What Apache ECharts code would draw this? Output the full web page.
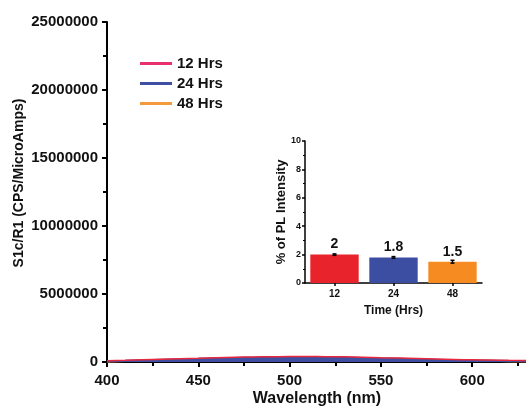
<!DOCTYPE html>
<html>
<head>
<meta charset="utf-8">
<script src="https://cdn.jsdelivr.net/npm/echarts@6/dist/echarts.min.js"></script>
<style>
  html, body { margin: 0; padding: 0; background: #fff; }
  #chart { width: 526px; height: 407px; }
</style>
</head>
<body>
<div id="chart"></div>
<script>
// Emission spectra (wavelength in nm) for the three time points
const wavelengths = [400, 410, 420, 430, 440, 450, 460, 470, 480, 490, 500, 510, 520, 530, 540, 550, 560, 570, 580, 590, 600, 610, 620, 630];
const spec12 = [90000, 120000, 160000, 200000, 240000, 280000, 320000, 350000, 375000, 390000, 400000, 400000, 395000, 380000, 355000, 320000, 285000, 250000, 215000, 185000, 160000, 140000, 120000, 105000];
const spec24 = [60000, 90000, 125000, 165000, 205000, 240000, 275000, 300000, 320000, 335000, 340000, 340000, 335000, 320000, 295000, 265000, 235000, 200000, 170000, 140000, 115000, 95000, 80000, 70000];
const spec48 = [40000, 65000, 95000, 130000, 165000, 195000, 225000, 250000, 265000, 275000, 280000, 280000, 275000, 265000, 245000, 220000, 195000, 165000, 140000, 115000, 95000, 75000, 60000, 50000];
const seriesNames = ['12 Hrs', '24 Hrs', '48 Hrs'];

// Inset: relative PL intensity per time point
const timeLabels = ['12', '24', '48'];
const plPercent = [2, 1.8, 1.5];
const plError = [0.05, 0.06, 0.1];

const FONT = "'Liberation Sans', Arial, sans-serif";
const colors = { '12 Hrs': '#e8306e', '24 Hrs': '#3e4fa3', '48 Hrs': '#f59a3c' };
const barColors = ['#e8232b', '#3b4ea2', '#f68b21'];

const pairs = arr => wavelengths.map((w, i) => [w, arr[i]]);

const chart = echarts.init(document.getElementById('chart'), null, { renderer: 'canvas' });

const axisLineStyle = { color: '#000', width: 2 };
const plain = v => String(v);

chart.setOption({
  backgroundColor: '#ffffff',
  animation: false,
  textStyle: { fontFamily: FONT },
  legend: {
    orient: 'vertical',
    left: 135,
    top: 51,
    itemWidth: 32,
    itemHeight: 3,
    itemGap: 5,
    icon: 'rect',
    data: seriesNames,
    textStyle: { fontFamily: FONT, fontWeight: 'bold', fontSize: 15, color: '#111' }
  },
  grid: [
    { left: 107, top: 22, right: -1, bottom: 45, containLabel: false, outerBoundsMode: 'none' },
    { left: 305, top: 141, width: 177, height: 142, containLabel: false, outerBoundsMode: 'none' }
  ],
  xAxis: [
    {
      gridIndex: 0,
      type: 'value',
      min: 400,
      max: 630,
      interval: 50,
      name: 'Wavelength (nm)',
      nameLocation: 'middle',
      nameGap: 29,
      nameMoveOverlap: false,
      nameTextStyle: { fontFamily: FONT, fontWeight: 'bold', fontSize: 16, color: '#111' },
      axisLine: { show: true, lineStyle: axisLineStyle },
      axisTick: { show: true, length: 5, inside: false, lineStyle: { color: '#000', width: 2 } },
      minorTick: { show: true, splitNumber: 2, length: 4, lineStyle: { color: '#000', width: 2 } },
      axisLabel: { showMaxLabel: false, margin: 11, formatter: plain, fontFamily: FONT, fontWeight: 'bold', fontSize: 15, color: '#111' },
      splitLine: { show: false }
    },
    {
      gridIndex: 1,
      type: 'category',
      data: timeLabels,
      name: 'Time (Hrs)',
      nameLocation: 'middle',
      nameGap: 22,
      nameMoveOverlap: false,
      nameTextStyle: { fontFamily: FONT, fontWeight: 'bold', fontSize: 12, color: '#111' },
      axisLine: { show: true, lineStyle: { color: '#000', width: 1.5 } },
      axisTick: { show: true, alignWithLabel: true, length: 3, lineStyle: { color: '#000', width: 1.5 } },
      axisLabel: { margin: 6, fontFamily: FONT, fontWeight: 'bold', fontSize: 10, color: '#111' },
      splitLine: { show: false }
    }
  ],
  yAxis: [
    {
      gridIndex: 0,
      type: 'value',
      min: 0,
      max: 25000000,
      interval: 5000000,
      name: 'S1c/R1 (CPS/MicroAmps)',
      nameLocation: 'middle',
      nameGap: 81,
      nameMoveOverlap: false,
      nameRotate: 90,
      nameTextStyle: { fontFamily: FONT, fontWeight: 'bold', fontSize: 14, color: '#111', padding: [0, 0, 0, 18] },
      axisLine: { show: true, lineStyle: axisLineStyle },
      axisTick: { show: true, length: 5, lineStyle: { color: '#000', width: 2 } },
      minorTick: { show: true, splitNumber: 2, length: 4, lineStyle: { color: '#000', width: 2 } },
      axisLabel: { margin: 9, formatter: plain, fontFamily: FONT, fontWeight: 'bold', fontSize: 15, color: '#111' },
      splitLine: { show: false }
    },
    {
      gridIndex: 1,
      type: 'value',
      min: 0,
      max: 10,
      interval: 2,
      name: '% of PL Intensity',
      nameLocation: 'middle',
      nameGap: 17,
      nameMoveOverlap: false,
      nameRotate: 90,
      nameTextStyle: { fontFamily: FONT, fontWeight: 'bold', fontSize: 13, color: '#111' },
      axisLine: { show: true, lineStyle: { color: '#000', width: 1.5 } },
      axisTick: { show: true, length: 3, lineStyle: { color: '#000', width: 1.5 } },
      minorTick: { show: true, splitNumber: 2, length: 2, lineStyle: { color: '#000', width: 1 } },
      axisLabel: { margin: 4, fontFamily: FONT, fontWeight: 'bold', fontSize: 9, color: '#111' },
      splitLine: { show: false }
    }
  ],
  series: [
    {
      name: '48 Hrs', type: 'line', xAxisIndex: 0, yAxisIndex: 0,
      data: pairs(spec48), showSymbol: false, smooth: true, z: 3,
      color: colors['48 Hrs'],
      lineStyle: { width: 2, color: colors['48 Hrs'] }
    },
    {
      name: '24 Hrs', type: 'line', xAxisIndex: 0, yAxisIndex: 0,
      data: pairs(spec24), showSymbol: false, smooth: true, z: 4,
      color: colors['24 Hrs'],
      lineStyle: { width: 2, color: colors['24 Hrs'] },
      areaStyle: { color: colors['24 Hrs'], opacity: 1 }
    },
    {
      name: '12 Hrs', type: 'line', xAxisIndex: 0, yAxisIndex: 0,
      data: pairs(spec12), showSymbol: false, smooth: true, z: 5,
      color: colors['12 Hrs'],
      lineStyle: { width: 1.5, color: '#e8283c' }
    },
    {
      name: 'PL', type: 'bar', xAxisIndex: 1, yAxisIndex: 1,
      barWidth: '82%',
      data: plPercent.map((v, i) => ({ value: v, itemStyle: { color: barColors[i] } })),
      label: {
        show: true, position: 'top', distance: 3,
        fontFamily: FONT, fontWeight: 'bold', fontSize: 14, color: '#111',
        formatter: p => String(p.value)
      },
      z: 2
    },
    {
      name: 'PL error', type: 'custom', xAxisIndex: 1, yAxisIndex: 1,
      data: plPercent.map((v, i) => [i, v - plError[i], v + plError[i]]),
      renderItem: (params, api) => {
        const lo = api.coord([api.value(0), api.value(1)]);
        const hi = api.coord([api.value(0), api.value(2)]);
        const hw = 2;
        const st = { stroke: '#000', lineWidth: 1.5 };
        return {
          type: 'group',
          children: [
            { type: 'line', shape: { x1: lo[0], y1: lo[1], x2: hi[0], y2: hi[1] }, style: st },
            { type: 'line', shape: { x1: lo[0] - hw, y1: lo[1], x2: lo[0] + hw, y2: lo[1] }, style: st },
            { type: 'line', shape: { x1: hi[0] - hw, y1: hi[1], x2: hi[0] + hw, y2: hi[1] }, style: st }
          ]
        };
      },
      z: 6
    }
  ]
});
</script>
</body>
</html>
